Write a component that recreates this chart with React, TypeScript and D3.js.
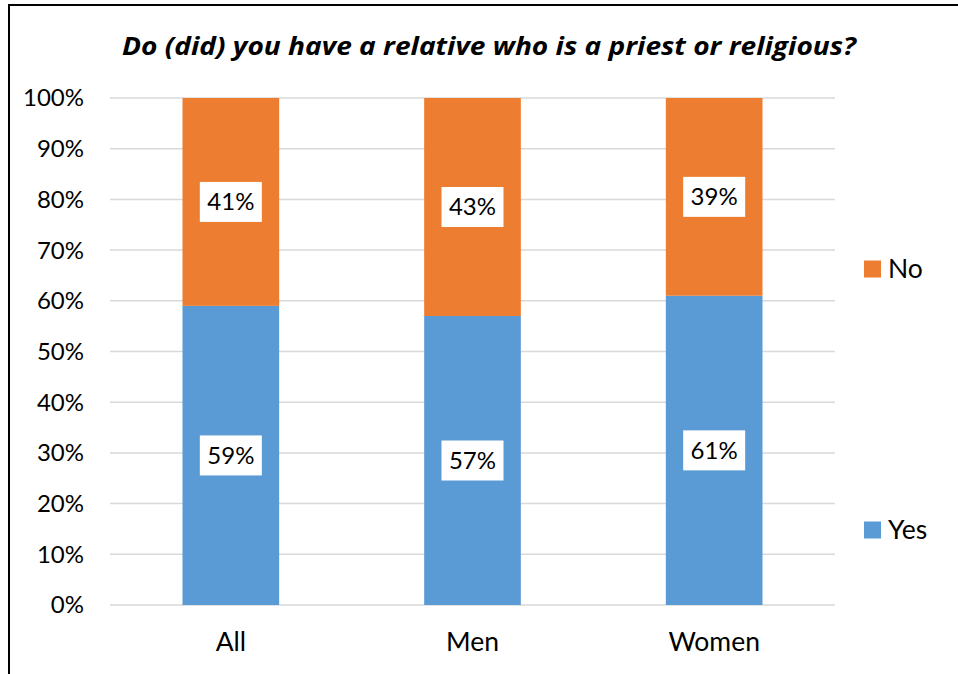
import React from "react";
import * as d3 from "d3";

const categories = ["All", "Men", "Women"];
const yesValues = [59, 57, 61];
const noValues = [41, 43, 39];
const seriesNames = ["Yes", "No"];
const seriesColors = ["#5B9BD5", "#ED7D31"];
const yTicks = [0, 10, 20, 30, 40, 50, 60, 70, 80, 90, 100];
const title = "Do (did) you have a relative who is a priest or religious?";

const W = 958;
const H = 674;
const FONT = "Lato, 'Open Sans', sans-serif";
const TITLE_FONT = "'Open Sans', Lato, sans-serif";

export default function App() {
  const x = d3.scaleBand().domain(categories).range([110, 835]).paddingInner(0.6).paddingOuter(0.3);
  const y = d3.scaleLinear().domain([0, 100]).range([605, 98]);
  const rows = categories.map((c, i) => ({ cat: c, Yes: yesValues[i], No: noValues[i] }));
  const stacked = d3.stack<any>().keys(seriesNames)(rows);

  return (
    <svg width={W} height={H} style={{ position: "absolute", left: 0, top: 0 }}>
      <rect x={0} y={0} width={W} height={H} fill="#fff" />
      <rect x={9} y={5} width={W + 20} height={H + 20} fill="#fff" stroke="#000" strokeWidth={2} />
      <text x={122} y={55} textLength={734} lengthAdjust="spacingAndGlyphs" fontFamily={TITLE_FONT} fontWeight="bold" fontStyle="italic" fontSize={25} fill="#000">
        {title}
      </text>
      {yTicks.map((t) => (
        <g key={t}>
          <line x1={110} x2={835} y1={y(t)} y2={y(t)} stroke="#d9d9d9" strokeWidth={1.5} />
          <text x={84} y={y(t)} dy="0.35em" textAnchor="end" fontFamily={FONT} fontSize={24} fill="#000">
            {t}%
          </text>
        </g>
      ))}
      {stacked.map((s, si) =>
        s.map((d, i) => {
          const bx = x(categories[i])!;
          const bw = x.bandwidth();
          const y0 = y(d[0]);
          const y1 = y(d[1]);
          const cy = (y0 + y1) / 2;
          const val = d[1] - d[0];
          return (
            <g key={`${si}-${i}`}>
              <rect x={bx} y={y1} width={bw} height={y0 - y1} fill={seriesColors[si]} />
              <rect x={bx + bw / 2 - 31} y={cy - 20} width={62} height={40} fill="#fff" />
              <text x={bx + bw / 2} y={cy} dy="0.35em" textAnchor="middle" fontFamily={FONT} fontSize={24} fill="#000">
                {val}%
              </text>
            </g>
          );
        })
      )}
      {categories.map((c) => (
        <text key={c} x={x(c)! + x.bandwidth() / 2} y={642} dy="0.35em" textAnchor="middle" fontFamily={FONT} fontSize={26.5} fill="#000">
          {c}
        </text>
      ))}
      {[1, 0].map((si, k) => {
        const ly = k === 0 ? 269 : 530;
        return (
          <g key={si}>
            <rect x={864} y={ly - 8.5} width={17} height={17} fill={seriesColors[si]} />
            <text x={888} y={ly} dy="0.35em" fontFamily={FONT} fontSize={26.5} fill="#000">
              {seriesNames[si]}
            </text>
          </g>
        );
      })}
    </svg>
  );
}
